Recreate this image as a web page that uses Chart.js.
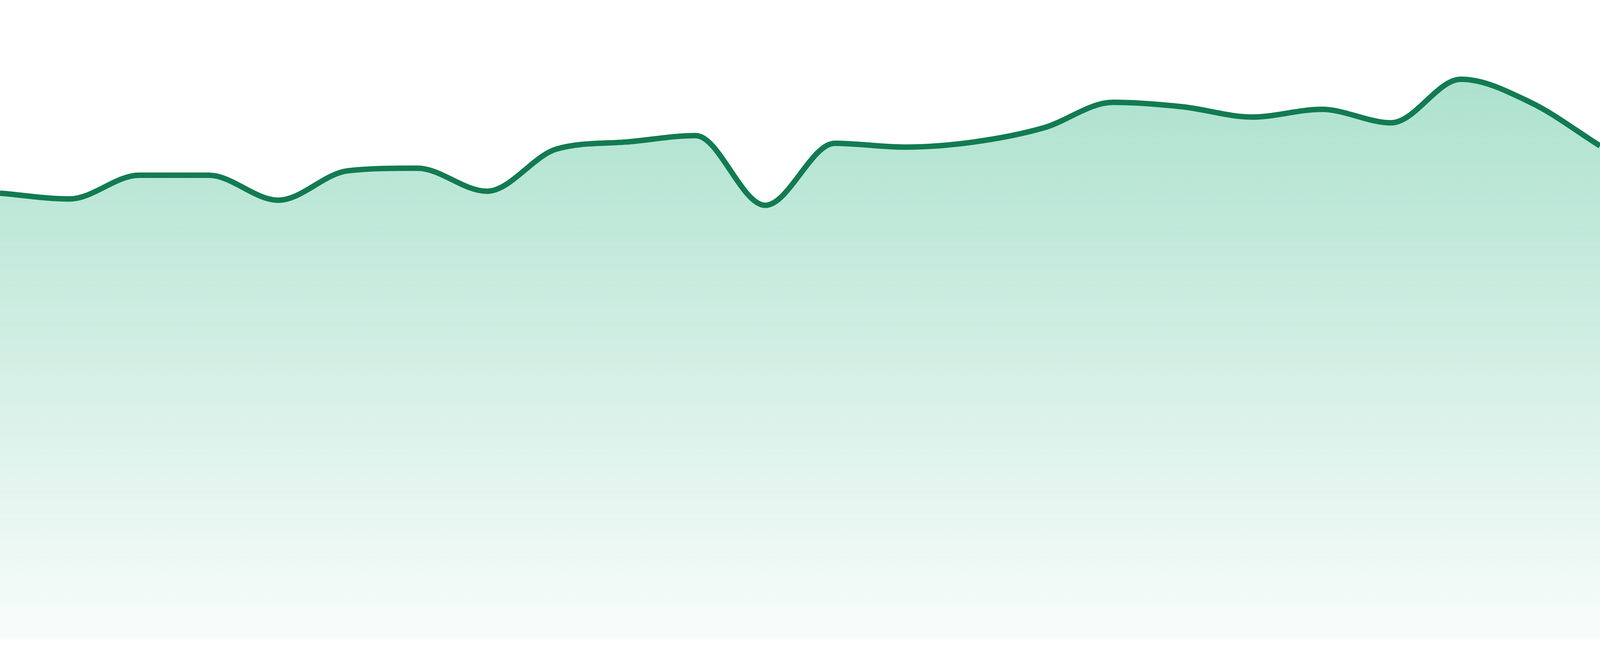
<!DOCTYPE html>
<html>
<head>
<meta charset="utf-8">
<title>Trend</title>
<script src="https://cdn.jsdelivr.net/npm/chart.js@4.4.1/dist/chart.umd.min.js"></script>
<style>
  html, body { margin: 0; padding: 0; background: #ffffff; overflow: hidden; }
  #wrap { width: 100vw; height: 100vh; position: relative; }
</style>
</head>
<body>
<div id="wrap"><canvas id="trendChart"></canvas></div>
<script>
// data (no axes are shown, scale 0..100)
const labels = ["1", "2", "3", "4", "5", "6", "7", "8", "9", "10", "11", "12",
                "13", "14", "15", "16", "17", "18", "19", "20", "21", "22", "23", "24"];
const values = [69.8, 68.9, 72.6, 72.6, 68.7, 73.3, 73.7, 70.1, 76.7, 77.8, 78.8, 67.9,
                77.6, 77.0, 77.8, 80.0, 84.0, 83.3, 81.7, 82.9, 80.8, 87.6, 84.0, 77.2];
const yMin = 0;
const yMax = 100;

document.addEventListener("DOMContentLoaded", function () {
  const ctx = document.getElementById("trendChart").getContext("2d");

  // fill fades from green at the top of the plot to almost white at the bottom
  function areaFill(context) {
    const area = context.chart.chartArea;
    if (!area) return "rgba(34, 176, 124, 0.2)";
    const g = context.chart.ctx.createLinearGradient(0, area.top, 0, area.bottom);
    g.addColorStop(0, "rgba(34, 176, 124, 0.42)");
    g.addColorStop(1, "rgba(34, 176, 124, 0.03)");
    return g;
  }

  new Chart(ctx, {
    type: "line",
    data: {
      labels: labels,
      datasets: [{
        data: values,
        borderColor: "#127b52",
        borderWidth: 14,
        backgroundColor: areaFill,
        fill: "start",
        cubicInterpolationMode: "monotone",
        pointRadius: 0,
        pointHoverRadius: 0
      }]
    },
    options: {
      responsive: true,
      maintainAspectRatio: false,
      animation: false,
      layout: { padding: { top: 0, bottom: 42, left: 0, right: 0 } },
      plugins: {
        legend: { display: false },
        tooltip: { enabled: false }
      },
      scales: {
        x: { display: false, offset: false },
        y: { display: false, min: yMin, max: yMax }
      }
    }
  });
});
</script>
</body>
</html>
